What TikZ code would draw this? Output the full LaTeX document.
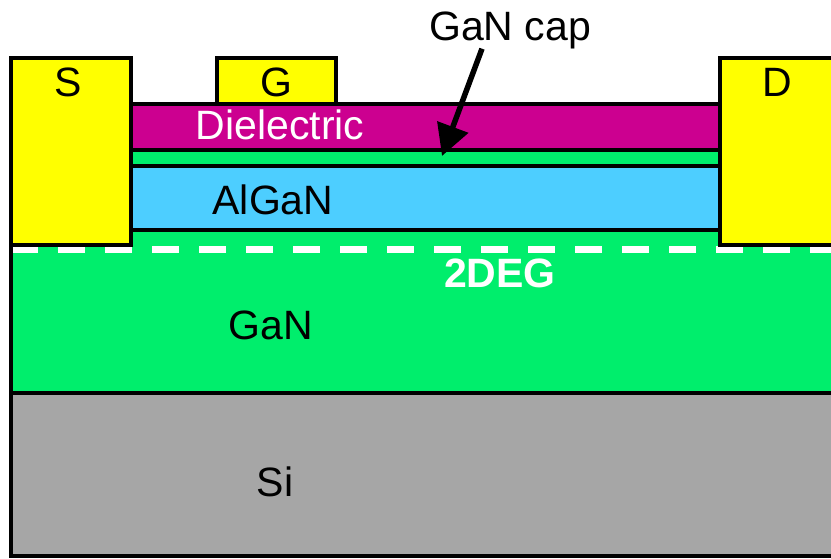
\documentclass[tikz,border=0pt]{standalone}
\usepackage{fontspec}
\setmainfont{Liberation Sans}
\usetikzlibrary{arrows.meta}
\definecolor{metalYellow}{HTML}{FFFF00}
\definecolor{oxideMagenta}{HTML}{CC0090}
\definecolor{ganGreen}{HTML}{00EE6C}
\definecolor{alganBlue}{HTML}{4DCEFF}
\definecolor{siGrey}{HTML}{A6A6A6}

\begin{document}
\begin{tikzpicture}[x=1pt,y=-1pt,every node/.style={font=\fontsize{41}{46}\selectfont,inner sep=0pt,anchor=base}]
      \tikzstyle{layer}=[draw=black,line width=4.4pt,miter limit=10]
      \tikzstyle{twodeg}=[draw=white,line width=7.5pt,dash pattern=on 27pt off 20pt,dash phase=2pt]
      \clip (0,0) rectangle (831,558);
      % stack, bottom to top
      \draw[layer,fill=siGrey] (11,393) rectangle (845,556);
      \draw[layer,fill=ganGreen] (11,230) rectangle (845,393);
      \draw[twodeg] (13,249.5)--(845,249.5);
      \draw[layer,fill=alganBlue] (131,166) rectangle (720,230);
      \draw[layer,fill=ganGreen] (131,150) rectangle (720,166);
      \draw[layer,fill=oxideMagenta] (131,104) rectangle (720,150);
      % contacts
      \draw[layer,fill=metalYellow] (11,58) rectangle (131,245);
      \draw[layer,fill=metalYellow] (217,58) rectangle (336,104);
      \draw[layer,fill=metalYellow] (720,58) rectangle (845,245);
      \node (s) at (68,96) {S};
      \node (g) at (276,96) {G};
      \node (d) at (777,96) {D};
      \node[text=white] (diel) at (280,139) {Dielectric};
      \node (algan) at (273,214) {AlGaN};
      \node[text=white,font=\fontsize{41}{46}\selectfont\bfseries] (deg) at (500,287) {2DEG};
      \node (gan) at (271,339) {GaN};
      \node (si) at (275,496) {Si};
      \node (cap) at (510,40) {GaN cap};
      \coordinate (capTail) at (482,0);
      \coordinate (capTip) at (442,156);
      \draw[-{Triangle[length=31pt,width=32pt]},line width=5.5pt] (cap.south -| capTail)--(capTip);
    \end{tikzpicture}
\end{document}
